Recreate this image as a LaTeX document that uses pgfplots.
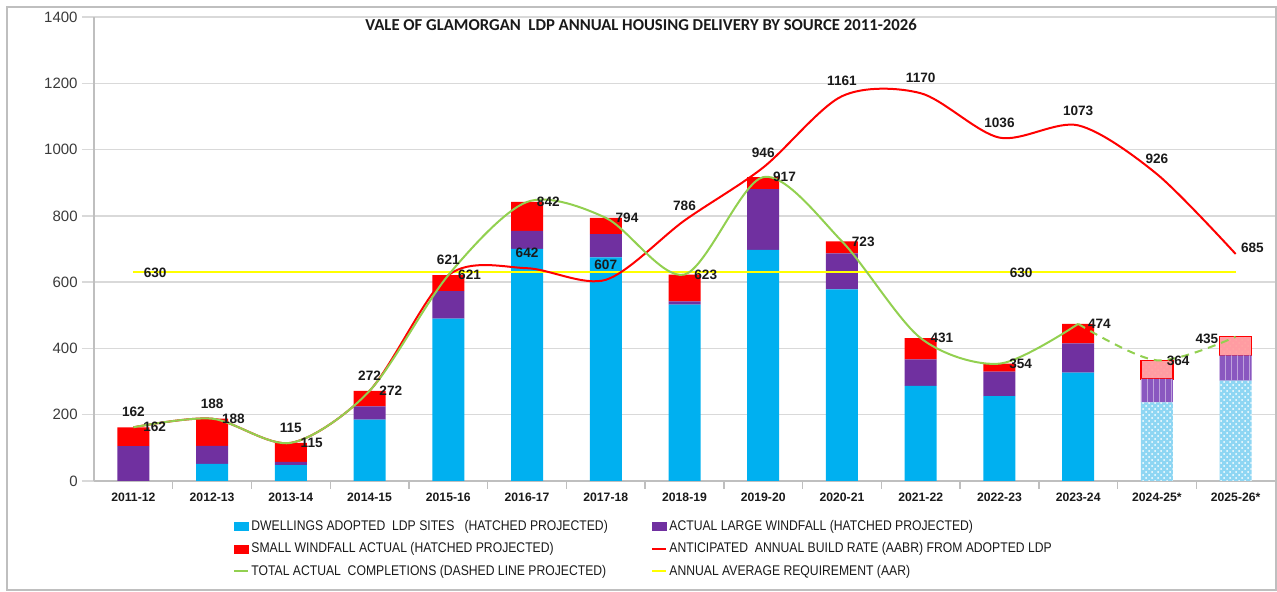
\documentclass[border=0pt]{standalone}
\usepackage{fontspec}
\setmainfont{Liberation Sans}
\newfontfamily\titlefont{Carlito}
\newfontfamily\legfont[FakeStretch=0.87]{Liberation Sans}
\usepackage{pgfplots}
\pgfplotsset{compat=1.18}
\usetikzlibrary{patterns}
\definecolor{blueA}{HTML}{00B0F0}
\definecolor{purpleA}{HTML}{7030A0}
\definecolor{redA}{HTML}{FF0000}
\definecolor{greenA}{HTML}{92D050}
\definecolor{yellowA}{HTML}{FFFF00}
\definecolor{lblue}{HTML}{8ED6F3}
\definecolor{lpurple}{HTML}{8A58C0}
\definecolor{lred}{HTML}{FF9CA2}
\definecolor{gridgray}{HTML}{D9D9D9}
\definecolor{axisgray}{HTML}{BFBFBF}
\definecolor{ticktext}{HTML}{3A3A3A}
\definecolor{labelblack}{HTML}{1A1A1A}

\tikzset{lbl/.style={font=\fontsize{6.8}{7}\selectfont\bfseries, text=labelblack, inner sep=0pt}}
\pgfplotsset{
  /pgf/number format/assume math mode=true,
  /pgf/number format/1000 sep={},
  baseax/.style={at={(47pt,55.5pt)}, anchor=south west, scale only axis,
    width=590.5pt, height=232pt, xmin=-0.5, xmax=14.5, ymin=0, ymax=1400},
  lblplot/.style={only marks, mark=*, mark size=0pt, mark options={draw=none, fill=none},
    nodes near coords, point meta=y, forget plot},
}

\begin{document}
\begin{tikzpicture}
\useasboundingbox (0,0) rectangle (638.5pt,296pt);
\draw[axisgray, line width=0.7pt] (3.5pt,1pt) rectangle (638pt,292.5pt);

% stacked bars
\begin{axis}[baseax,
  ybar stacked, bar width=16pt,
  axis x line*=bottom, axis y line*=left,
  axis line style={draw=axisgray, line width=0.7pt, -},
  ytick={0,200,...,1400},
  ymajorgrids, grid style={draw=gridgray, line width=0.7pt},
  tick align=outside, major tick length=6pt, minor tick length=4pt,
  ytick style={draw=gridgray, line width=0.7pt},
  xtick={0,...,14},
  xticklabels={2011-12,2012-13,2013-14,2014-15,2015-16,2016-17,2017-18,2018-19,
    2019-20,2020-21,2021-22,2022-23,2023-24,2024-25*,2025-26*},
  major x tick style={draw=none},
  minor xtick={0.5,1.5,...,13.5},
  minor x tick style={draw=axisgray, line width=0.7pt},
  yticklabel style={font=\fontsize{7.5}{8}\selectfont, text=ticktext, inner sep=0pt, xshift=-2pt},
  xticklabel style={font=\fontsize{6.1}{7}\selectfont\bfseries, text=labelblack, yshift=3.5pt},
]
% actual
\addplot[fill=blueA, draw=none] coordinates {(0,0)(1,52)(2,48)(3,185)(4,490)(5,700)(6,675)(7,532)(8,697)(9,578)(10,287)(11,256)(12,327)(13,0)(14,0)};
\addplot[fill=purpleA, draw=none] coordinates {(0,105)(1,54)(2,10)(3,40)(4,83)(5,55)(6,70)(7,10)(8,184)(9,109)(10,80)(11,74)(12,88)(13,0)(14,0)};
\addplot[fill=redA, draw=none] coordinates {(0,57)(1,82)(2,57)(3,47)(4,48)(5,87)(6,49)(7,81)(8,36)(9,36)(10,64)(11,24)(12,59)(13,0)(14,0)};
% projected (hatched)
\addplot[fill=lblue, draw=none, postaction={pattern=crosshatch dots, pattern color=white}] coordinates {(0,0)(1,0)(2,0)(3,0)(4,0)(5,0)(6,0)(7,0)(8,0)(9,0)(10,0)(11,0)(12,0)(13,237)(14,303)};
\addplot[fill=lpurple, draw=none, postaction={pattern=vertical lines, pattern color=lpurple!55!white}] coordinates {(0,0)(1,0)(2,0)(3,0)(4,0)(5,0)(6,0)(7,0)(8,0)(9,0)(10,0)(11,0)(12,0)(13,71)(14,76)};
\addplot[fill=lred, draw=redA, line width=0.6pt, postaction={pattern=crosshatch dots, pattern color=redA!35!white}] coordinates {(0,0)(1,0)(2,0)(3,0)(4,0)(5,0)(6,0)(7,0)(8,0)(9,0)(10,0)(11,0)(12,0)(13,56)(14,56)};
\end{axis}

% lines, labels and legend
\begin{axis}[baseax, hide axis, clip=false,
  legend columns=2, legend cell align=left,
  legend style={at={(0.1177,-0.0776)}, anchor=north west, draw=none, fill=none,
    inner sep=0pt, column sep=0pt, row sep=2.25pt,
    font=\legfont\fontsize{7}{8}\selectfont,
    nodes={inner sep=1pt, text height=5.5pt, text depth=1.5pt, text=labelblack}},
]
\addlegendimage{legend image code/.code={\fill[blueA] (0pt,-2pt) rectangle (7pt,2pt);}}
\addlegendentry{\makebox[199pt][l]{DWELLINGS ADOPTED\ \ LDP SITES\ \ \ (HATCHED PROJECTED)}}
\addlegendimage{legend image code/.code={\fill[purpleA] (0pt,-2pt) rectangle (7pt,2pt);}}
\addlegendentry{ACTUAL LARGE WINDFALL (HATCHED PROJECTED)}
\addlegendimage{legend image code/.code={\fill[redA] (0pt,-2pt) rectangle (7pt,2pt);}}
\addlegendentry{\makebox[199pt][l]{SMALL WINDFALL ACTUAL (HATCHED PROJECTED)}}
\addlegendimage{legend image code/.code={\draw[redA, line width=1pt] (0pt,0pt) -- (7pt,0pt);}}
\addlegendentry{ANTICIPATED\ \ ANNUAL BUILD RATE (AABR) FROM ADOPTED LDP}
\addlegendimage{legend image code/.code={\draw[greenA, line width=1pt] (0pt,0pt) -- (7pt,0pt);}}
\addlegendentry{\makebox[199pt][l]{TOTAL ACTUAL\ \ COMPLETIONS (DASHED LINE PROJECTED)}}
\addlegendimage{legend image code/.code={\draw[yellowA, line width=1pt] (0pt,0pt) -- (7pt,0pt);}}
\addlegendentry{ANNUAL AVERAGE REQUIREMENT (AAR)}

% AAR
\addplot[yellowA, line width=1.1pt, forget plot] coordinates {(0,630)(14,630)};
% AABR
\addplot[redA, line width=1pt, smooth, forget plot] coordinates {(0,162)(1,188)(2,115)(3,272)(4,621)(5,642)(6,607)(7,786)(8,946)(9,1161)(10,1170)(11,1036)(12,1073)(13,926)(14,685)};
% total completions
\addplot[greenA, line width=1pt, smooth, forget plot] coordinates {(0,162)(1,188)(2,115)(3,272)(4,621)(5,842)(6,794)(7,623)(8,917)(9,723)(10,431)(11,354)(12,474)};
\addplot[greenA, line width=1pt, smooth, dash pattern=on 4pt off 3pt, forget plot] coordinates {(12,474)(13,364)(14,435)};

% labels
\addplot[lblplot, every node near coord/.style={lbl, anchor=center, yshift=7.5pt}] coordinates {(0,162)(1,188)(2,115)(3,272)(4,621)(5,642)(6,607)(7,786)(8,946)(9,1161)(10,1170)(11,1036)(12,1073)(13,926)};
\addplot[lblplot, every node near coord/.style={lbl, anchor=west, xshift=2.5pt, yshift=3pt}] coordinates {(14,685)};
\addplot[lblplot, every node near coord/.style={lbl, anchor=west, xshift=4.75pt}] coordinates {(0,162)(1,188)(2,115)(3,272)(4,621)(5,842)(6,794)(7,623)(8,917)(9,723)(10,431)(11,354)(12,474)(13,364)};
\addplot[lblplot, every node near coord/.style={lbl, anchor=east, xshift=-8.5pt, yshift=-1pt}] coordinates {(14,435)};
\addplot[lblplot, every node near coord/.style={lbl, anchor=west, xshift=5pt, yshift=-0.5pt}] coordinates {(0,630)(11,630)};
\end{axis}

\node[font=\titlefont\bfseries\fontsize{8.35}{9}\selectfont, text=labelblack] at (320.5pt,283.5pt)
  {VALE OF GLAMORGAN\ \ LDP ANNUAL HOUSING DELIVERY BY SOURCE 2011-2026};
\end{tikzpicture}
\end{document}
